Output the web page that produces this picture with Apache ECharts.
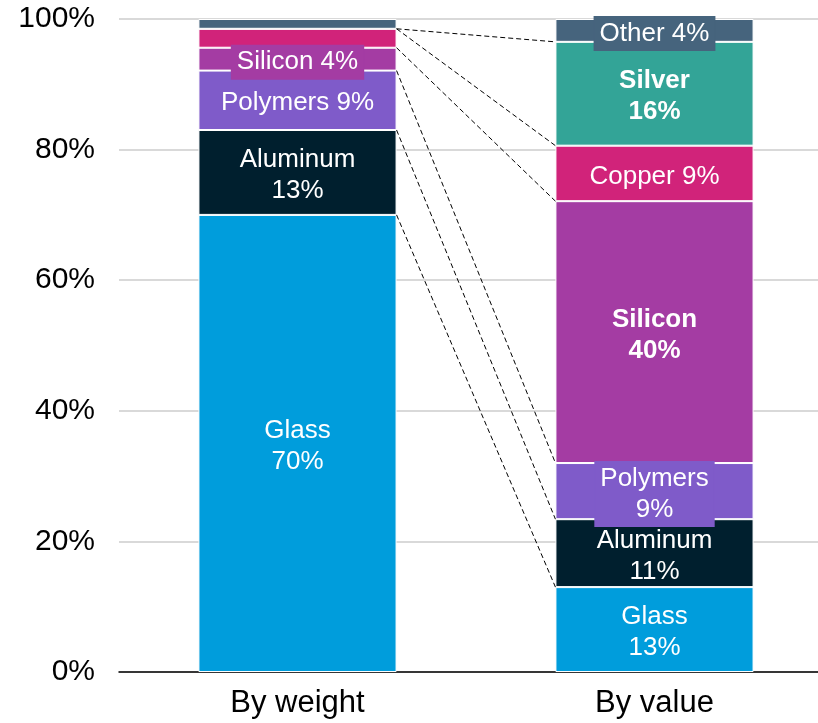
<!DOCTYPE html>
<html>
<head>
<meta charset="utf-8">
<script src="https://cdn.jsdelivr.net/npm/echarts@6/dist/echarts.min.js"></script>
<style>
html,body{margin:0;padding:0;background:#fff;}
#chart{width:818px;height:723px;}
</style>
</head>
<body>
<div id="chart"></div>
<script>
// ---- data ----
const categories = ['By weight', 'By value'];
const materials = ['Glass', 'Aluminum', 'Polymers', 'Silicon', 'Copper', 'Silver', 'Other'];
const byWeight = [70, 13, 9.1, 3.5, 2.9, 0, 1.5];
const byValue = [13, 10.4, 8.6, 40.1, 8.5, 15.9, 3.5];
// label texts (rounded shares shown in the chart); null = no label
const weightLabels = ['Glass\n70%', 'Aluminum\n13%', 'Polymers 9%', 'Silicon 4%', null, null, null];
const valueLabels = ['Glass\n13%', 'Aluminum\n11%', 'Polymers\n9%', 'Silicon\n40%', 'Copper 9%', 'Silver\n16%', 'Other 4%'];
const boldValueLabels = ['Silicon', 'Silver'];
const yTicks = [0, 20, 40, 60, 80, 100];

// ---- styles ----
const colors = ['#009ddc', '#001f2e', '#7f5bc9', '#a43ca3', '#d1237a', '#33a497', '#46647d'];
const FONT = "'Liberation Sans', Arial, sans-serif";
const BAR_RATIO = 0.555;
// labels drawn on a filled box (they overflow their segment)
const boxedWeight = ['Silicon'];
const boxedValue = ['Polymers', 'Other'];

// cumulative boundaries for connectors
const cumL = [], cumR = [];
let a = 0, b = 0;
for (let i = 0; i < materials.length; i++) {
  a += byWeight[i]; b += byValue[i];
  cumL.push(a); cumR.push(b);
}
const connectors = [];
for (let i = 0; i < materials.length - 1; i++) {
  connectors.push([0, cumL[i], cumR[i]]);
}

function labelCfg(text, color, bold, boxed) {
  if (!text) return { show: false };
  const cfg = {
    show: true,
    position: 'inside',
    formatter: text,
    color: '#fff',
    fontFamily: FONT,
    fontSize: 26,
    lineHeight: 31,
    offset: [0, 3],
    fontWeight: bold ? 'bold' : 'normal',
    textBorderWidth: 0,
    textBorderColor: 'transparent',
    padding: [1, 5, 1, 5]
  };
  if (boxed) {
    cfg.backgroundColor = color;
    cfg.borderColor = color;
    cfg.borderWidth = 1;
  }
  return cfg;
}

const series = materials.map((m, i) => ({
  name: m,
  type: 'bar',
  stack: 'total',
  barWidth: (BAR_RATIO * 100) + '%',
  itemStyle: { color: colors[i], borderColor: '#ffffff', borderWidth: 1 },
  emphasis: { disabled: true },
  data: [
    { value: byWeight[i], label: labelCfg(weightLabels[i], colors[i], false, boxedWeight.indexOf(m) >= 0) },
    { value: byValue[i], label: labelCfg(valueLabels[i], colors[i], boldValueLabels.indexOf(m) >= 0, boxedValue.indexOf(m) >= 0) }
  ]
}));

series.push({
  type: 'custom',
  name: 'connectors',
  silent: true,
  z: 3,
  encode: { x: 0, y: [1, 2] },
  data: connectors,
  renderItem: function (params, api) {
    const pL = api.coord([0, api.value(1)]);
    const pR = api.coord([1, api.value(2)]);
    const half = api.size([1, 0])[0] * BAR_RATIO / 2;
    return {
      type: 'line',
      shape: { x1: pL[0] + half, y1: pL[1], x2: pR[0] - half, y2: pR[1] },
      style: { stroke: '#000', lineWidth: 1, lineDash: [5, 3], fill: null }
    };
  }
});

const chart = echarts.init(document.getElementById('chart'), null, { renderer: 'canvas' });
chart.setOption({
  animation: false,
  backgroundColor: '#ffffff',
  grid: { left: 119, width: 714, top: 19, bottom: 51, containLabel: false, outerBoundsMode: 'none' },
  xAxis: {
    type: 'category',
    data: categories,
    axisTick: { show: false },
    axisLine: { show: true, lineStyle: { color: '#000', width: 1.5 } },
    axisLabel: { color: '#000', fontFamily: FONT, fontSize: 31, margin: 16 }
  },
  yAxis: {
    type: 'value',
    min: yTicks[0],
    max: yTicks[yTicks.length - 1],
    interval: yTicks[1] - yTicks[0],
    axisLine: { show: false },
    axisTick: { show: false },
    splitLine: { lineStyle: { color: '#d9d9d9', width: 2 } },
    axisLabel: { color: '#000', fontFamily: FONT, fontSize: 30, margin: 24, formatter: '{value}%' }
  },
  series: series
});
</script>
</body>
</html>
